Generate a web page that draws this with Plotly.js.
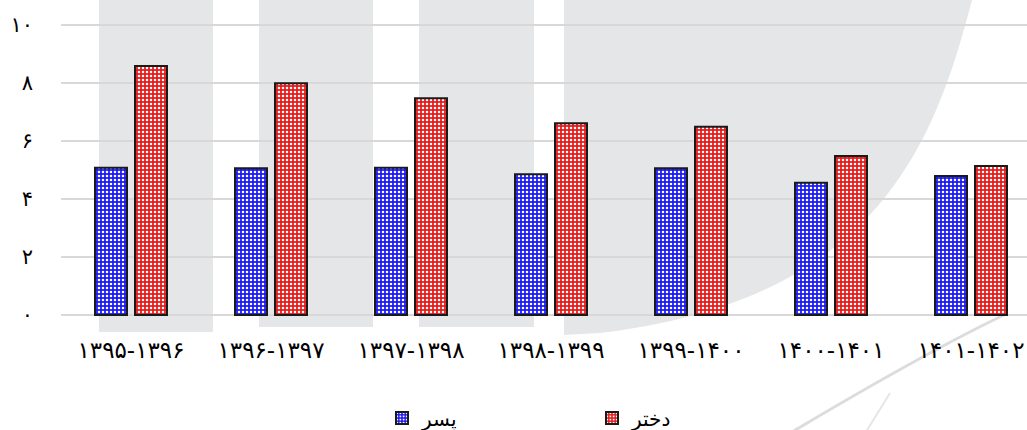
<!DOCTYPE html>
<html>
<head>
<meta charset="utf-8">
<script src="https://cdn.plot.ly/plotly-3.0.1.min.js"></script>
<style>html,body{margin:0;padding:0;background:#fff;}</style>
</head>
<body>
<div id="chart" style="width:1027px;height:430px;"></div>
<script>
// ---- data ----
var categories = ['۱۳۹۵-۱۳۹۶','۱۳۹۶-۱۳۹۷','۱۳۹۷-۱۳۹۸','۱۳۹۸-۱۳۹۹','۱۳۹۹-۱۴۰۰','۱۴۰۰-۱۴۰۱','۱۴۰۱-۱۴۰۲'];
var boys  = [5.08, 5.06, 5.08, 4.85, 5.06, 4.56, 4.79];
var girls = [8.59, 7.99, 7.47, 6.61, 6.49, 5.48, 5.14];
var boysName = 'پسر';
var girlsName = 'دختر';
var yTickVals = [0, 2, 4, 6, 8, 10];
var yTickText = ['۰', '۲', '۴', '۶', '۸', '۱۰'];

// ---- layout geometry (pixels) ----
var W = 1027, H = 430, L = 61, R = 0, T = 22, B = 112;
var pw = W - L - R, ph = H - T - B;
function px(X){ return ((X - L) / pw).toFixed(4); }
function py(Y){ return ((H - B - Y) / ph).toFixed(4); }
function pt(p){ return px(p[0]) + ',' + py(p[1]); }
function poly(pts){
  return 'M' + pts.map(pt).join(' L') + ' Z';
}
var wm = '#e5e6e7';
var shapes = [
  {type:'path', xref:'paper', yref:'paper', layer:'below', fillcolor:wm, line:{width:0},
   path: poly([[99,0],[213,0],[213,332],[99,332]])},
  {type:'path', xref:'paper', yref:'paper', layer:'below', fillcolor:wm, line:{width:0},
   path: poly([[259,0],[373,0],[373,327],[259,327]])},
  {type:'path', xref:'paper', yref:'paper', layer:'below', fillcolor:wm, line:{width:0},
   path: poly([[419,0],[534,0],[534,327],[419,327]])},
  {type:'path', xref:'paper', yref:'paper', layer:'below', fillcolor:wm, line:{width:0},
   path: 'M' + pt([564,0]) + ' L' + pt([972,0]) + ' C' + pt([935,140]) + ' ' + pt([880,300]) + ' ' + pt([600,333]) + ' L' + pt([564,335]) + ' Z'},
  {type:'path', xref:'paper', yref:'paper', layer:'below', fillcolor:'rgba(0,0,0,0)', line:{width:3, color:'#dcdcdc'},
   path: 'M' + pt([1006,314]) + ' Q' + pt([930,350]) + ' ' + pt([792,432])},
  {type:'path', xref:'paper', yref:'paper', layer:'below', fillcolor:'rgba(0,0,0,0)', line:{width:2, color:'#e6e6e6'},
   path: 'M' + pt([890,393]) + ' L' + pt([866,432])}
];

var fontFam = 'DejaVu Sans, Noto Sans, sans-serif';

var traces = [
  {type:'bar', name: boysName, x: categories, y: boys,
   marker:{color:'#2222ee', line:{color:'#1a1a1a', width:2},
           pattern:{shape:'.', bgcolor:'#1c1cf2', fgcolor:'#ffffff', size:4, solidity:0.32, fillmode:'replace'}}},
  {type:'bar', name: girlsName, x: categories, y: girls,
   marker:{color:'#e22222', line:{color:'#1a1a1a', width:2},
           pattern:{shape:'.', bgcolor:'#e41c1c', fgcolor:'#ffffff', size:4, solidity:0.32, fillmode:'replace'}}}
];

var layout = {
  width: W, height: H,
  margin:{l:L, r:R, t:T, b:B, pad:0},
  paper_bgcolor:'#ffffff', plot_bgcolor:'rgba(0,0,0,0)',
  font:{family:fontFam, color:'#000000', size:20},
  barmode:'group', bargap:0.4286, bargroupgap:0.2,
  showlegend:true,
  legend:{orientation:'h', x:(382 - L)/pw, xanchor:'left', yref:'container', y:(H - 418)/H, yanchor:'middle',
          entrywidth:165, entrywidthmode:'pixels', bgcolor:'rgba(0,0,0,0)',
          font:{family:fontFam, size:20, color:'#000'}},
  xaxis:{type:'category', range:[-0.5, 6.4], showgrid:false, showline:false, zeroline:false,
         ticks:'', ticklabelstandoff:16, tickfont:{family:fontFam, size:23, color:'#000'}, fixedrange:true},
  yaxis:{range:[-3/29, 10 + 3/29], tickvals:yTickVals, ticktext:yTickText, showgrid:true, gridcolor:'#d8d8d8', gridwidth:2,
         zeroline:false, showline:false, ticks:'', ticklabelstandoff:27,
         tickfont:{family:fontFam, size:21, color:'#000'}, fixedrange:true},
  shapes: shapes
};

Plotly.newPlot('chart', traces, layout, {displayModeBar:false, staticPlot:true});
</script>
</body>
</html>
